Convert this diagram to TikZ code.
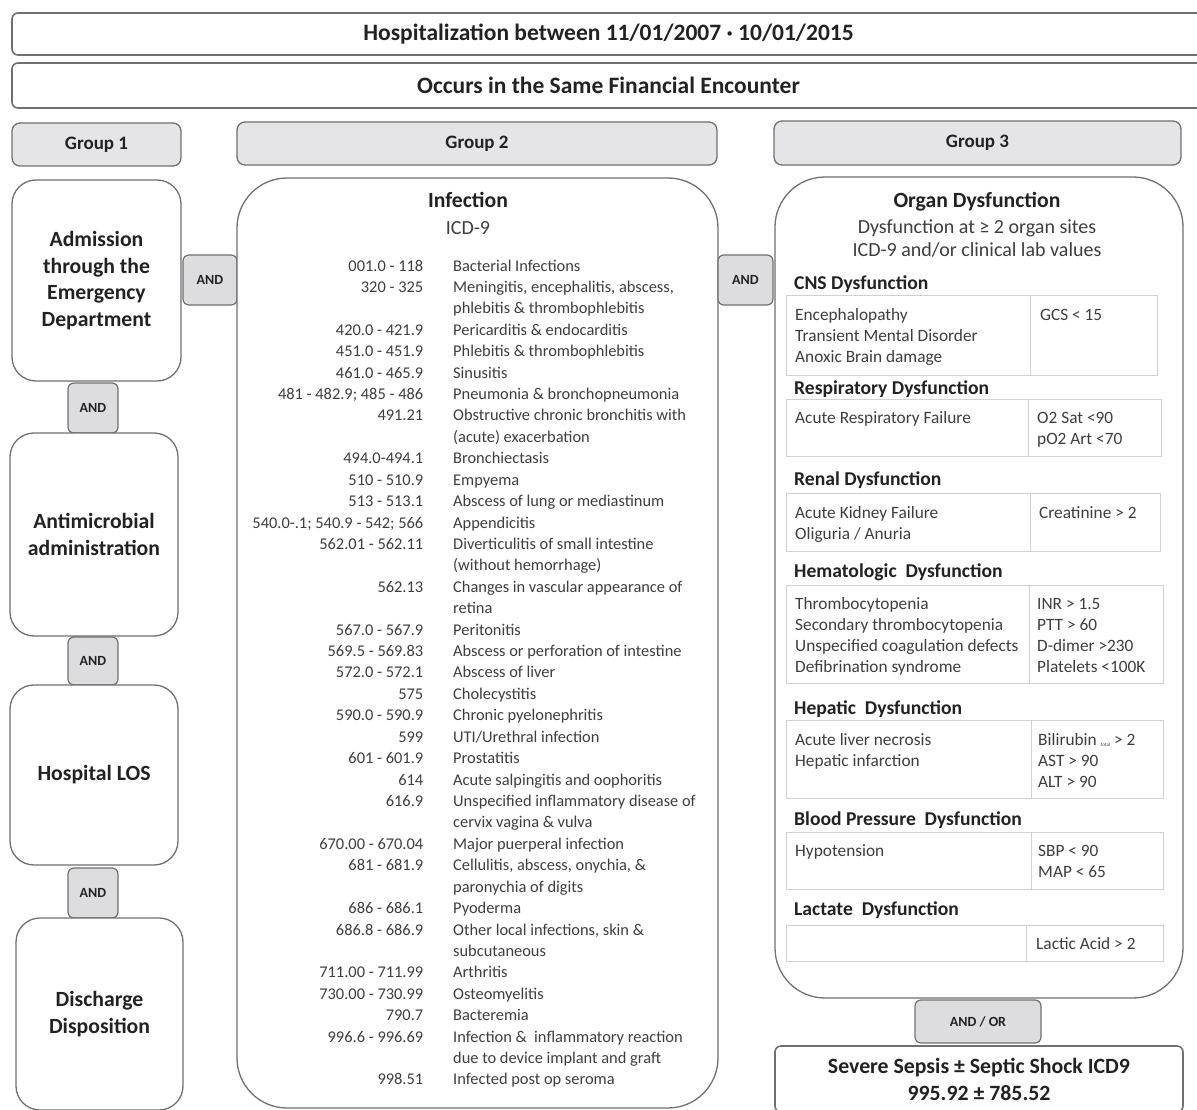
\documentclass[tikz,border=0pt]{standalone}
\usepackage{fontspec}
\setmainfont{Carlito}
\usepackage{array}
\usetikzlibrary{positioning}
\definecolor{boxgray}{RGB}{112,112,112}
\definecolor{hdrfill}{RGB}{229,229,231}
\definecolor{andfill}{RGB}{221,221,223}
\definecolor{tblgray}{RGB}{208,208,208}
\definecolor{txtgray}{RGB}{62,62,62}
\definecolor{txtdark}{RGB}{34,34,34}

\begin{document}
\begin{tikzpicture}[x=1pt, y=-1pt,
  bar/.style={draw=boxgray, line width=1.6pt, rounded corners=6pt, fill=white, inner sep=0pt,
    text=txtdark, font=\fontsize{23.5}{27}\selectfont\bfseries},
  hdr/.style={draw=boxgray, line width=1.3pt, rounded corners=8pt, fill=hdrfill, inner sep=0pt,
    text=txtdark, font=\fontsize{19}{22}\selectfont\bfseries},
  crit/.style={draw=boxgray, line width=1.3pt, rounded corners=24pt, fill=white, inner sep=0pt,
    align=center, text=txtdark, font=\fontsize{21.7}{26.5}\selectfont\bfseries},
  panel/.style={draw=boxgray, line width=1.3pt, rounded corners=50pt, fill=white, inner sep=0pt},
  andbox/.style={draw=boxgray, line width=1.2pt, rounded corners=6pt, fill=andfill, inner sep=0pt,
    text=txtdark, font=\fontsize{14}{16}\selectfont\bfseries},
  ttl/.style={inner sep=0pt, text=txtdark, font=\fontsize{21.7}{25}\selectfont\bfseries},
  sub/.style={inner sep=0pt, text=txtgray, align=center, font=\fontsize{20}{23}\selectfont},
  sect/.style={inner sep=0pt, anchor=base west, text=txtdark, font=\fontsize{19.6}{22}\selectfont\bfseries},
  cell/.style={inner sep=0pt, anchor=base west, align=left, text=txtgray, font=\fontsize{17.3}{21}\selectfont},
  tbl/.style={draw=tblgray, line width=1pt}
]
\useasboundingbox (0,0) rectangle (1197,1110);

% Top bars
\node[bar, minimum width=1193pt, minimum height=42pt] (period) at (608.5,34)
  {Hospitalization between 11/01/2007 · 10/01/2015};
\node[bar, minimum width=1193pt, minimum height=45pt] (encounter) at (608.5,85.5)
  {Occurs in the Same Financial Encounter};

% Group headers
\node[hdr, minimum width=169pt, minimum height=43pt] (grp1) at (96.5,144.5) {Group 1};
\node[hdr, minimum width=480pt, minimum height=43pt] (grp2) at (477,143.5) {Group 2};
\node[hdr, minimum width=407pt, minimum height=44pt] (grp3) at (977.5,143) {Group 3};

% Group 1
\node[crit, minimum width=169pt, minimum height=201pt] (admit) at (96.5,280.5)
  {Admission\\through the\\Emergency\\Department};
\node[andbox, minimum width=50pt, minimum height=50pt] (and1) at (93,408) {AND};
\node[crit, minimum width=168pt, minimum height=203pt] (antimic) at (94,534.5)
  {Antimicrobial\\administration};
\node[andbox, minimum width=50pt, minimum height=48pt] (and2) at (93,661) {AND};
\node[crit, minimum width=168pt, minimum height=180pt] (los) at (94,775) {Hospital LOS};
\node[andbox, minimum width=50pt, minimum height=50pt] (and3) at (93,893) {AND};
\node[crit, minimum width=167pt, minimum height=192pt] (disch) at (99.5,1014)
  {Discharge\\Disposition};

% Group 2
\node[andbox, minimum width=54pt, minimum height=50pt] (andinf) at (210,280) {AND};
\node[panel, minimum width=481pt, minimum height=930pt] (infect) at (477.5,643) {};
\node[ttl] (inftitle) at (468,200) {Infection};
\node[sub] (inficd) at (468,228) {ICD-9};
\node[inner sep=0pt, anchor=base west, text=txtgray, font=\fontsize{16.4}{21.42}\selectfont] (inflist) at (223,271)
{\begin{tabular}[t]{@{}>{\raggedleft\arraybackslash}p{200pt}@{\hspace{30pt}}l@{}}
001.0 - 118 & Bacterial Infections \\
320 - 325 & Meningitis, encephalitis, abscess, \\
 & phlebitis \& thrombophlebitis \\
420.0 - 421.9 & Pericarditis \& endocarditis \\
451.0 - 451.9 & Phlebitis \& thrombophlebitis \\
461.0 - 465.9 & Sinusitis \\
481 - 482.9; 485 - 486 & Pneumonia \& bronchopneumonia \\
491.21 & Obstructive chronic bronchitis with \\
 & (acute) exacerbation \\
494.0-494.1 & Bronchiectasis \\
510 - 510.9 & Empyema \\
513 - 513.1 & Abscess of lung or mediastinum \\
540.0-.1; 540.9 - 542; 566 & Appendicitis \\
562.01 - 562.11 & Diverticulitis of small intestine \\
 & (without hemorrhage) \\
562.13 & Changes in vascular appearance of \\
 & retina \\
567.0 - 567.9 & Peritonitis \\
569.5 - 569.83 & Abscess or perforation of intestine \\
572.0 - 572.1 & Abscess of liver \\
575 & Cholecystitis \\
590.0 - 590.9 & Chronic pyelonephritis \\
599 & UTI/Urethral infection \\
601 - 601.9 & Prostatitis \\
614 & Acute salpingitis and oophoritis \\
616.9 & Unspecified inflammatory disease of \\
 & cervix vagina \& vulva \\
670.00 - 670.04 & Major puerperal infection \\
681 - 681.9 & Cellulitis, abscess, onychia, \& \\
 & paronychia of digits \\
686 - 686.1 & Pyoderma \\
686.8 - 686.9 & Other local infections, skin \& \\
 & subcutaneous \\
711.00 - 711.99 & Arthritis \\
730.00 - 730.99 & Osteomyelitis \\
790.7 & Bacteremia \\
996.6 - 996.69 & Infection \&\ \ inflammatory reaction \\
 & due to device implant and graft \\
998.51 & Infected post op seroma
\end{tabular}};

% Group 3
\node[andbox, minimum width=55pt, minimum height=50pt] (andorg) at (745.5,280) {AND};
\node[panel, minimum width=408pt, minimum height=821pt] (organ) at (979,587.5) {};
\node[ttl] (orgtitle) at (977,202) {Organ Dysfunction};
\node[sub] (orgsub) at (977,239) {Dysfunction at ≥ 2 organ sites\\ICD-9 and/or clinical lab values};

% CNS
\node[sect] (cns) at (794,290) {CNS Dysfunction};
\draw[tbl] (786,295) rectangle (1157,375) (1030,295) -- (1030,375);
\node[cell] (cnsL) at (795,362) {Encephalopathy\\Transient Mental Disorder\\Anoxic Brain damage};
\node[cell] (cnsR) at (1040,320) {GCS < 15};

% Respiratory
\node[sect] (resp) at (794,394) {Respiratory Dysfunction};
\draw[tbl] (786,399) rectangle (1161,456) (1028,399) -- (1028,456);
\node[cell] (respL) at (795,423) {Acute Respiratory Failure};
\node[cell] (respR) at (1037,444) {O2 Sat <90\\pO2 Art <70};

% Renal
\node[sect] (renal) at (794,485) {Renal Dysfunction};
\draw[tbl] (786,493) rectangle (1160,551) (1030,493) -- (1030,551);
\node[cell] (renalL) at (795,539) {Acute Kidney Failure\\Oliguria / Anuria};
\node[cell] (renalR) at (1039,518) {Creatinine > 2};

% Hematologic
\node[sect] (hema) at (794,577) {Hematologic\ \ Dysfunction};
\draw[tbl] (786,585) rectangle (1163,683) (1029,585) -- (1029,683);
\node[cell] (hemaL) at (795,672) {Thrombocytopenia\\Secondary thrombocytopenia\\Unspecified coagulation defects\\Defibrination syndrome};
\node[cell] (hemaR) at (1037,672) {INR > 1.5\\PTT > 60\\D-dimer >230\\Platelets <100K};

% Hepatic
\node[sect] (hepa) at (794,714) {Hepatic\ \ Dysfunction};
\draw[tbl] (786,720) rectangle (1163,798) (1031,720) -- (1031,798);
\node[cell] (hepaL) at (795,766) {Acute liver necrosis\\Hepatic infarction};
\node[cell] (hepaR) at (1038,787) {Bilirubin \raisebox{-1pt}{\fontsize{5}{5}\selectfont total} > 2\\AST > 90\\ALT > 90};

% Blood pressure
\node[sect] (bp) at (794,825) {Blood Pressure\ \ Dysfunction};
\draw[tbl] (786,832) rectangle (1163,889) (1031,832) -- (1031,889);
\node[cell] (bpL) at (795,856) {Hypotension};
\node[cell] (bpR) at (1038,877) {SBP < 90\\MAP < 65};

% Lactate
\node[sect] (lact) at (794,915) {Lactate\ \ Dysfunction};
\draw[tbl] (786,925) rectangle (1163,961) (1026,925) -- (1026,961);
\node[cell] (lactR) at (1036,949) {Lactic Acid > 2};

% Outcome
\node[andbox, minimum width=126pt, minimum height=43pt] (andor) at (978,1021.5) {AND / OR};
\node[bar, align=center, minimum width=408pt, minimum height=66pt, font=\fontsize{21.8}{27}\selectfont\bfseries]
  (sepsis) at (979,1079) {Severe Sepsis ± Septic Shock ICD9\\995.92 ± 785.52};
\end{tikzpicture}
\end{document}
